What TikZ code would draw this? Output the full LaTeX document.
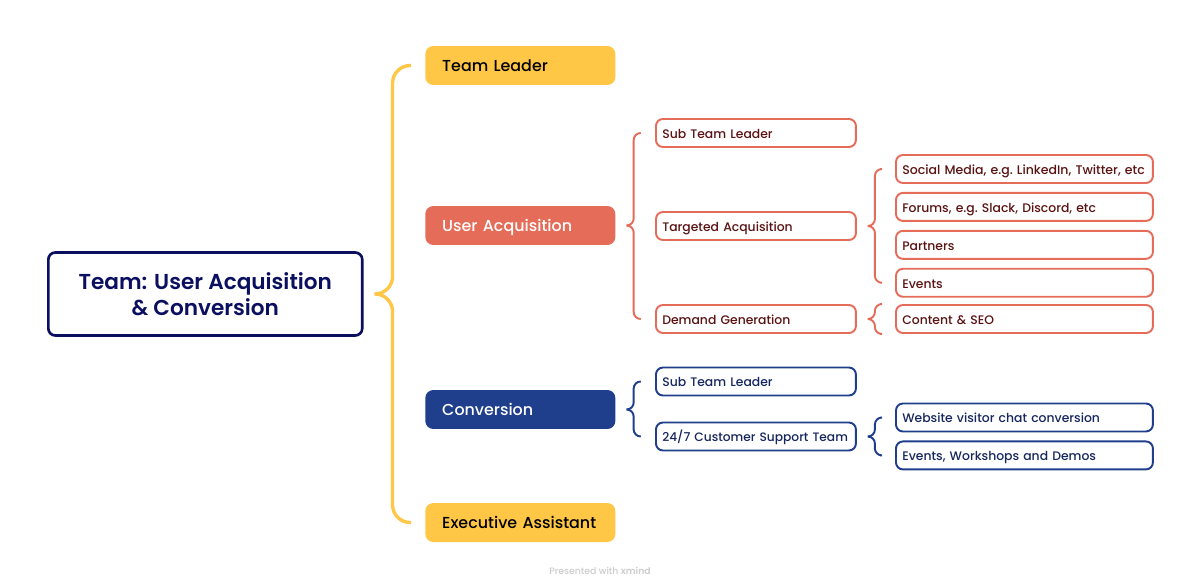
\documentclass[tikz,border=0pt]{standalone}
\usepackage{fontspec}
\setmainfont{Poppins Medium}[BoldFont={Poppins SemiBold}]
\usetikzlibrary{positioning, calc}
\definecolor{gold}{HTML}{FFC745}
\definecolor{coral}{HTML}{E56C58}
\definecolor{cobalt}{HTML}{1F3F8C}
\definecolor{midnight}{HTML}{0B0F5F}
\definecolor{maroon}{HTML}{5A1212}
\definecolor{inkblue}{HTML}{16265E}

\begin{document}
\begin{tikzpicture}[x=0.02cm, y=-0.02cm, node distance=0.16cm,
        branch/.style={rectangle, rounded corners=4.5pt, anchor=west, minimum height=0.78cm, align=left,
            text width=3.8cm-2*9.6pt, inner xsep=9.6pt, inner ysep=0pt, text height=8.1pt, text depth=1.8pt,
            font=\fontsize{9.05}{12}\selectfont\frenchspacing},
        topic/.style={rectangle, draw, line width=1.1pt, rounded corners=4pt, anchor=west, minimum height=0.56cm, align=left,
            inner xsep=3.6pt, inner ysep=0pt, text height=6.9pt, text depth=0.8pt,
            font=\fontsize{7.05}{10}\selectfont\frenchspacing},
        subtopic/.style={topic, text width=4cm-7.2pt},
        leaf/.style={topic, text width=5.14cm-7.2pt},
        redtopic/.style={draw=coral, text=maroon},
        bluetopic/.style={draw=cobalt, text=inkblue},
        brace/.style={line width=1.1pt, rounded corners=4pt}]

        \useasboundingbox (0,0) rectangle (1200,588);

        % Central topic
        \node[draw=midnight, line width=1.5pt, rounded corners=4pt, text=midnight, align=center, anchor=west,
            minimum width=6.28cm, minimum height=1.66cm, inner sep=0pt,
            font=\fontsize{12.3}{15}\bfseries\selectfont] (root) at (47,294) {Team: User Acquisition\\\& Conversion};

        % Main branches
        \node[branch, fill=gold, text=black] (teamlead) at (425,65.5) {Team Leader};
        \node[branch, fill=coral, text=white] (useracq) at (425,225.5) {User Acquisition};
        \node[branch, fill=cobalt, text=white] (conv) at (425,409.5) {Conversion};
        \node[branch, fill=gold, text=black] (execassist) at (425,522.5) {Executive Assistant};

        % User acquisition
        \node[subtopic, redtopic] (subred) at (655,133) {Sub Team Leader};
        \node[subtopic, redtopic] (targeted) at (655,226) {Targeted Acquisition};
        \node[subtopic, redtopic] (demand) at (655,319) {Demand Generation};
        \node[leaf, redtopic, font=\fontsize{7.12}{10}\selectfont\frenchspacing] (social) at (895,169) {Social Media, e.g. LinkedIn, Twitter, etc};
        \node[leaf, redtopic, below=of social.south west, anchor=north west] (forums) {Forums, e.g. Slack, Discord, etc};
        \node[leaf, redtopic, below=of forums.south west, anchor=north west] (partners) {Partners};
        \node[leaf, redtopic, below=of partners.south west, anchor=north west] (events) {Events};
        \node[leaf, redtopic] (content) at (895,319) {Content \& SEO};

        % Conversion
        \node[subtopic, bluetopic] (subblue) at (655,381.5) {Sub Team Leader};
        \node[subtopic, bluetopic, font=\fontsize{6.95}{10}\selectfont\frenchspacing] (support) at (655,436.5) {24/7 Customer Support Team};
        \node[leaf, bluetopic] (website) at (895,417.5) {Website visitor chat conversion};
        \node[leaf, bluetopic, below=of website.south west, anchor=north west] (workshops) {Events, Workshops and Demos};

        % Braces
        \draw[brace, draw=gold, line width=1.9pt, rounded corners=10pt] ($(root.east)+(11,0)$) -- ++(18,0) |- ($(teamlead.west)+(-14,0)$);
        \draw[brace, draw=gold, line width=1.9pt, rounded corners=10pt] ($(root.east)+(11,0)$) -- ++(18,0) |- ($(execassist.west)+(-14,0)$);
        \draw[brace, draw=coral] ($(useracq.east)+(11,0)$) -- ++(7,0) |- ($(subred.west)+(-15,0)$);
        \draw[brace, draw=coral] ($(useracq.east)+(11,0)$) -- ++(7,0) |- ($(demand.west)+(-15,0)$);
        \draw[brace, draw=coral] ($(targeted.east)+(11,0)$) -- ++(7,0) |- ($(social.west)+(-15,0)$);
        \draw[brace, draw=coral] ($(targeted.east)+(11,0)$) -- ++(7,0) |- ($(events.west)+(-15,0)$);
        \draw[brace, draw=coral] ($(demand.east)+(11,0)$) -- ++(7,0) |- ($(content.west)+(-15,-15)$);
        \draw[brace, draw=coral] ($(demand.east)+(11,0)$) -- ++(7,0) |- ($(content.west)+(-15,15)$);
        \draw[brace, draw=cobalt] ($(conv.east)+(11,0)$) -- ++(7,0) |- ($(subblue.west)+(-15,0)$);
        \draw[brace, draw=cobalt] ($(conv.east)+(11,0)$) -- ++(7,0) |- ($(support.west)+(-15,0)$);
        \draw[brace, draw=cobalt] ($(support.east)+(11,0)$) -- ++(7,0) |- ($(website.west)+(-15,0)$);
        \draw[brace, draw=cobalt] ($(support.east)+(11,0)$) -- ++(7,0) |- ($(workshops.west)+(-15,0)$);

        % Footer
        \node[text=black!20, font=\fontsize{5.3}{7}\selectfont] (footer) at (600,571) {Presented with \textbf{xmind}};
    \end{tikzpicture}
\end{document}
